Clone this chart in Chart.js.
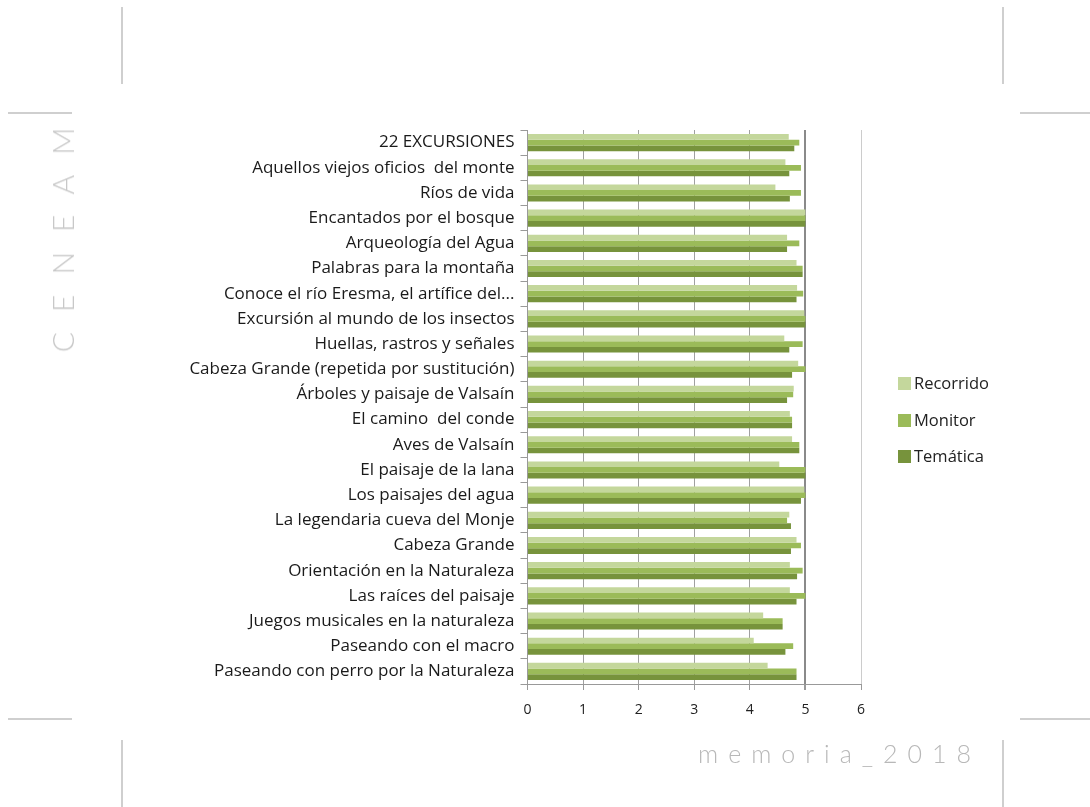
<!DOCTYPE html>
<html><head><meta charset="utf-8">
<script src="https://cdn.jsdelivr.net/npm/chart.js@4/dist/chart.umd.min.js"></script>
<style>
html,body{margin:0;padding:0;background:#fff;}
#wrap{position:relative;width:1090px;height:807px;overflow:hidden;}
#c{position:absolute;left:0;top:0;}
.ln{position:absolute;background:#cfcfcf;}
#ceneam{position:absolute;left:62px;top:230px;transform:translate(-50%,-50%) rotate(-90deg);font-family:Lato,"Open Sans",sans-serif;font-weight:300;font-size:30px;letter-spacing:20px;color:#c8c8c8;white-space:nowrap;}
#mem{position:absolute;left:698px;top:738px;font-family:Lato,"Open Sans",sans-serif;font-weight:300;font-size:25px;letter-spacing:10px;color:#b8b8b8;white-space:nowrap;}
#legend{position:absolute;left:898px;top:371px;font-family:"Open Sans",sans-serif;font-size:16.5px;color:#222;}
#legend div{height:36.5px;display:flex;align-items:flex-start;}
#legend span.b{display:inline-block;width:13px;height:13px;margin-right:3px;margin-top:6px;}
</style></head>
<body><div id="wrap">
<canvas id="c" width="1090" height="807"></canvas>
<div class="ln" style="left:121px;top:7px;width:2px;height:77px"></div>
<div class="ln" style="left:1002px;top:7px;width:2px;height:77px"></div>
<div class="ln" style="left:8px;top:112px;width:64px;height:2px"></div>
<div class="ln" style="left:1020px;top:112px;width:70px;height:2px"></div>
<div class="ln" style="left:8px;top:718px;width:64px;height:2px"></div>
<div class="ln" style="left:1020px;top:718px;width:70px;height:2px"></div>
<div class="ln" style="left:121px;top:740px;width:2px;height:67px"></div>
<div class="ln" style="left:1002px;top:740px;width:2px;height:67px"></div>
<div id="ceneam">CENEAM</div>
<div id="mem">memoria_2018</div>
<div id="legend"></div>
</div>
<script>
const categories = [
 "22 EXCURSIONES",
 "Aquellos viejos oficios  del monte",
 "Ríos de vida",
 "Encantados por el bosque",
 "Arqueología del Agua",
 "Palabras para la montaña",
 "Conoce el río Eresma, el artífice del...",
 "Excursión al mundo de los insectos",
 "Huellas, rastros y señales",
 "Cabeza Grande (repetida por sustitución)",
 "Árboles y paisaje de Valsaín",
 "El camino  del conde",
 "Aves de Valsaín",
 "El paisaje de la lana",
 "Los paisajes del agua",
 "La legendaria cueva del Monje",
 "Cabeza Grande",
 "Orientación en la Naturaleza",
 "Las raíces del paisaje",
 "Juegos musicales en la naturaleza",
 "Paseando con el macro",
 "Paseando con perro por la Naturaleza"
];
const recorrido = [4.70,4.64,4.46,5.00,4.67,4.84,4.85,4.98,4.62,4.87,4.79,4.72,4.76,4.53,4.98,4.71,4.84,4.72,4.72,4.24,4.07,4.32];
const monitor   = [4.89,4.92,4.92,5.00,4.89,4.95,4.96,5.00,4.95,5.00,4.78,4.76,4.89,5.00,5.00,4.67,4.92,4.95,5.00,4.59,4.78,4.84];
const tematica  = [4.80,4.71,4.72,5.00,4.67,4.95,4.84,5.00,4.71,4.76,4.67,4.76,4.89,5.00,4.92,4.74,4.74,4.85,4.84,4.59,4.64,4.84];
const seriesNames = ["Recorrido","Monitor","Temática"];
const seriesColors = ["#c4d79c","#9bbb59","#77933c"];
const xTicks = [0,1,2,3,4,5,6];

const values=[recorrido,monitor,tematica];
const datasets = seriesNames.map((n,i)=>({label:n,data:values[i],backgroundColor:seriesColors[i],borderWidth:0,barPercentage:1,categoryPercentage:0.68}));

const lg=document.getElementById('legend');
seriesNames.forEach((n,i)=>{const d=document.createElement('div');d.innerHTML='<span class="b" style="background:'+seriesColors[i]+'"></span><span>'+n+'</span>';lg.appendChild(d);});

new Chart(document.getElementById('c'),{
 type:'bar',
 data:{labels:categories,datasets},
 options:{
  indexAxis:'y',responsive:false,animation:false,
  layout:{padding:{left:0,right:229,top:130,bottom:0}},
  plugins:{legend:{display:false},tooltip:{enabled:false}},
  scales:{
   x:{min:0,max:6,
      afterBuildTicks:s=>{s.ticks=xTicks.map(v=>({value:v}));},
      afterFit:s=>{s.height=123;},
      ticks:{color:'#222',font:{family:'"Open Sans",sans-serif',size:14},padding:12},
      grid:{color:c=>c.tick&&c.tick.value===5?'#8a8a8a':(c.tick&&c.tick.value===6?'#cccccc':'#a0a0a0'),
            lineWidth:c=>c.tick&&c.tick.value===5?2:1,tickLength:6,tickColor:'#999'},
      border:{color:'#999',width:1}},
   y:{afterFit:s=>{s.width=527.5;},
      ticks:{color:'#1a1a1a',font:{family:'"Open Sans",sans-serif',size:17},padding:6,autoSkip:false},
      grid:{drawOnChartArea:false,drawTicks:true,tickLength:7,color:'#999'},
      border:{color:'#999',width:1}}
  }
 }
});
</script>
</body></html>
